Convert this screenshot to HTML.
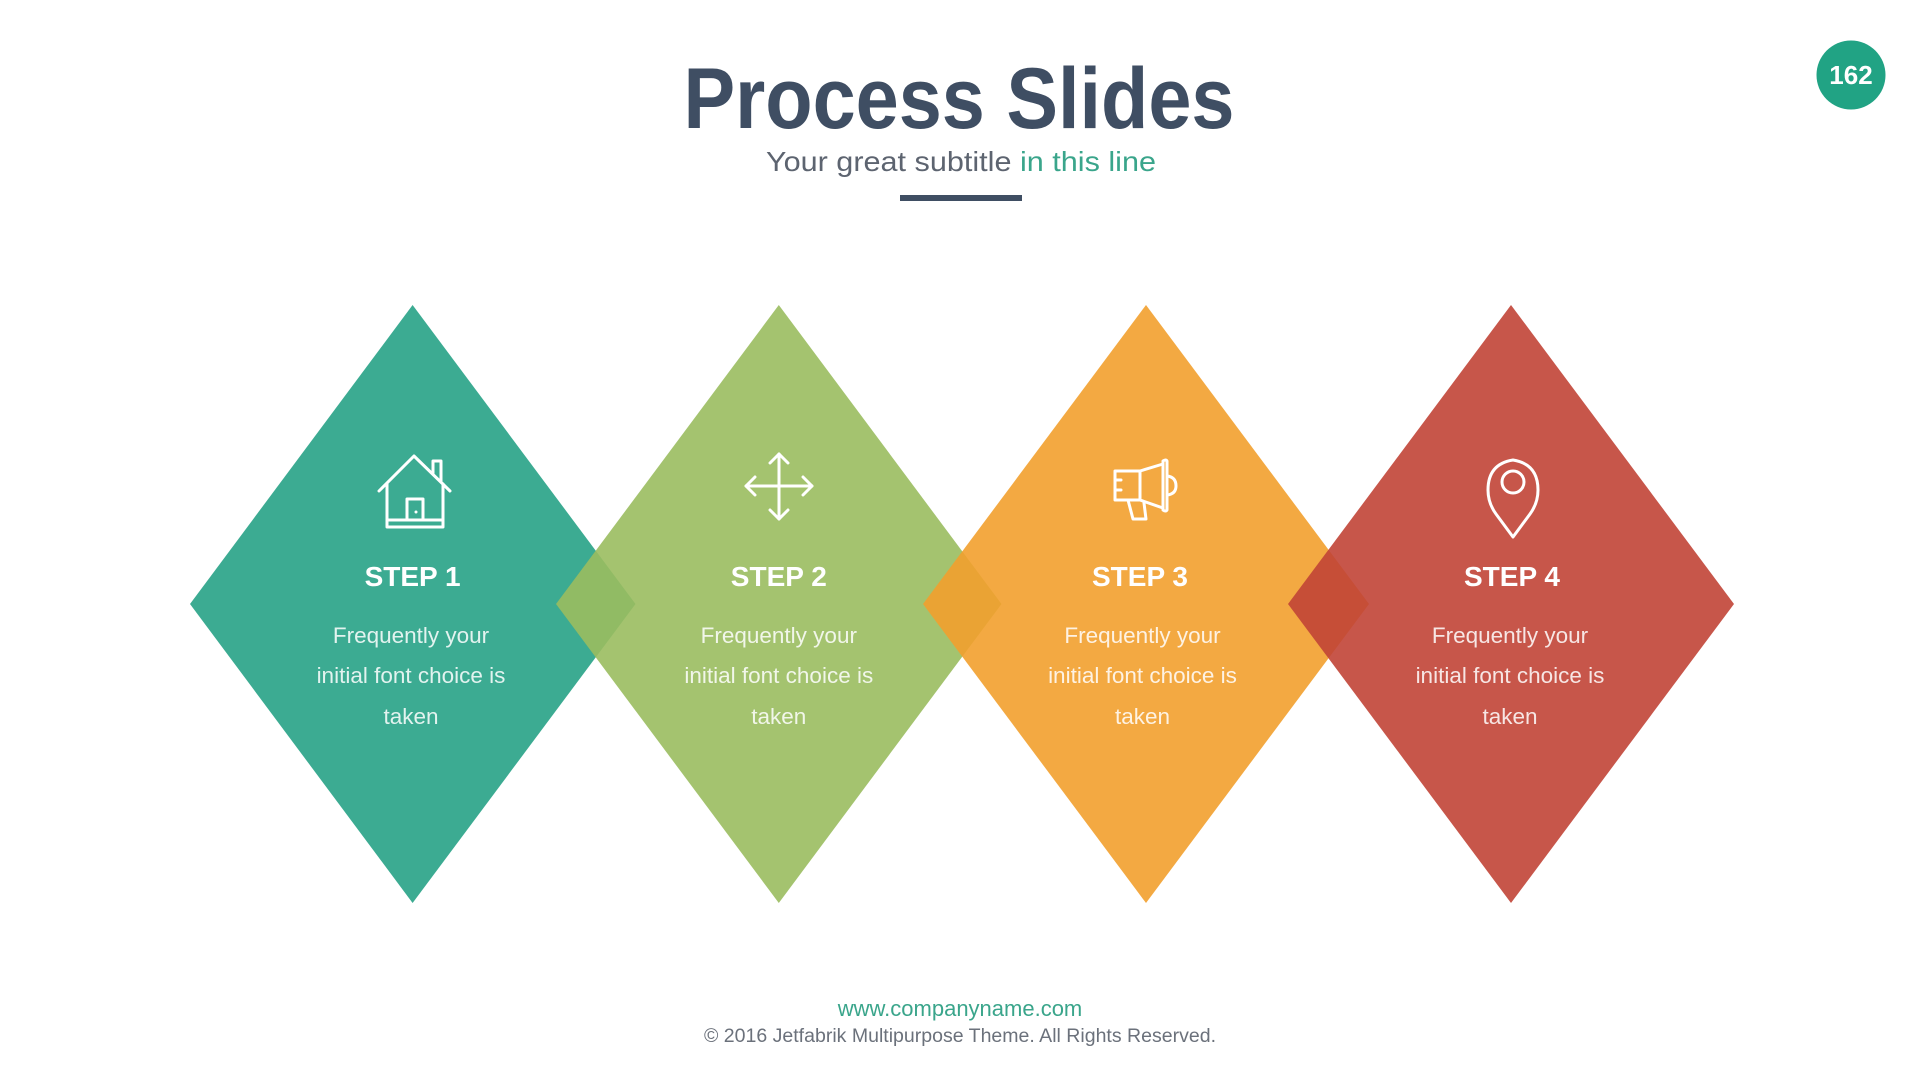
<!DOCTYPE html>
<html><head><meta charset="utf-8"><style>html,body{margin:0;padding:0;background:#fff;}svg{display:block}</style></head>
<body>
<svg width="1920" height="1080" viewBox="0 0 1920 1080" xmlns="http://www.w3.org/2000/svg" font-family="'Liberation Sans', sans-serif">
<rect width="1920" height="1080" fill="#fff"/>
<text x="959" y="128" text-anchor="middle" font-size="86" font-weight="bold" fill="#3F4E63" textLength="551" lengthAdjust="spacingAndGlyphs">Process Slides</text>
<text x="961" y="171" text-anchor="middle" font-size="28" fill="#5d6470" textLength="390" lengthAdjust="spacingAndGlyphs">Your great subtitle <tspan fill="#3AA58B">in this line</tspan></text>
<rect x="900" y="195" width="122" height="6" fill="#3F4E63"/>
<circle cx="1851" cy="75" r="34.5" fill="#21A384"/>
<text x="1851" y="84" text-anchor="middle" font-size="26" font-weight="bold" fill="#fff">162</text>

<polygon points="412.6,305 635.5,604 412.6,903 190,604" fill="#27A286" fill-opacity="0.9"/>
<polygon points="778.8,305 1001.5,604 778.8,903 556,604" fill="#9ABC5F" fill-opacity="0.9"/>
<polygon points="1146,305 1369,604 1146,903 923,604" fill="#F2A02E" fill-opacity="0.9"/>
<polygon points="1511,305 1734,604 1511,903 1288,604" fill="#C14436" fill-opacity="0.9"/>

<g fill="none" stroke="#fff" stroke-width="3" stroke-linecap="round" stroke-linejoin="round">
<path d="M379,491 L414,456 L450,491"/>
<path d="M433,473 V461 H441 V481"/>
<path d="M387,484 V527 H443 V484"/>
<path d="M387,520 H443"/>
<path d="M407,520 V499 H423 V520"/>
<path d="M779,454 V519 M746,486 H812"/>
<path d="M770,463 L779,454 L788,463 M770,510 L779,519 L788,510 M755,477 L746,486 L755,495 M803,477 L812,486 L803,495"/>
<path d="M1115,471 H1140 L1163,464 V508 L1140,500 H1115 Z"/>
<path d="M1140,471 V500"/>
<path d="M1163,461 V510 Q1166,512 1167,510 V461 Q1166,459 1163,461 Z"/>
<path d="M1167,476 Q1176,477 1176,486 Q1176,494 1167,495"/>
<path d="M1115,480 H1121 M1115,490 H1121"/>
<path d="M1128,500 L1133,519 H1146 L1144,503"/>
<path d="M1513,537 L1496,514 Q1488,503 1488,490 Q1488,464 1513,460 Q1538,464 1538,490 Q1538,503 1530,514 Z"/>
<circle cx="1513" cy="482" r="11"/>
</g>
<circle cx="416" cy="512" r="1.5" fill="#fff"/>

<g fill="#fff" font-weight="bold" font-size="28" text-anchor="middle">
<text x="412.6" y="586">STEP 1</text>
<text x="778.8" y="586">STEP 2</text>
<text x="1140" y="586">STEP 3</text>
<text x="1512" y="586">STEP 4</text>
</g>
<g fill="#fff" fill-opacity="0.85" font-size="22.5" text-anchor="middle">
<text x="411" y="643">Frequently your</text><text x="411" y="683">initial font choice is</text><text x="411" y="724">taken</text>
<text x="778.8" y="643">Frequently your</text><text x="778.8" y="683">initial font choice is</text><text x="778.8" y="724">taken</text>
<text x="1142.5" y="643">Frequently your</text><text x="1142.5" y="683">initial font choice is</text><text x="1142.5" y="724">taken</text>
<text x="1510" y="643">Frequently your</text><text x="1510" y="683">initial font choice is</text><text x="1510" y="724">taken</text>
</g>

<text x="960" y="1016" text-anchor="middle" font-size="22" fill="#3AA58B">www.companyname.com</text>
<text x="960" y="1042" text-anchor="middle" font-size="19" fill="#6b717b" textLength="512" lengthAdjust="spacingAndGlyphs">© 2016 Jetfabrik Multipurpose Theme. All Rights Reserved.</text>
</svg>
</body></html>
